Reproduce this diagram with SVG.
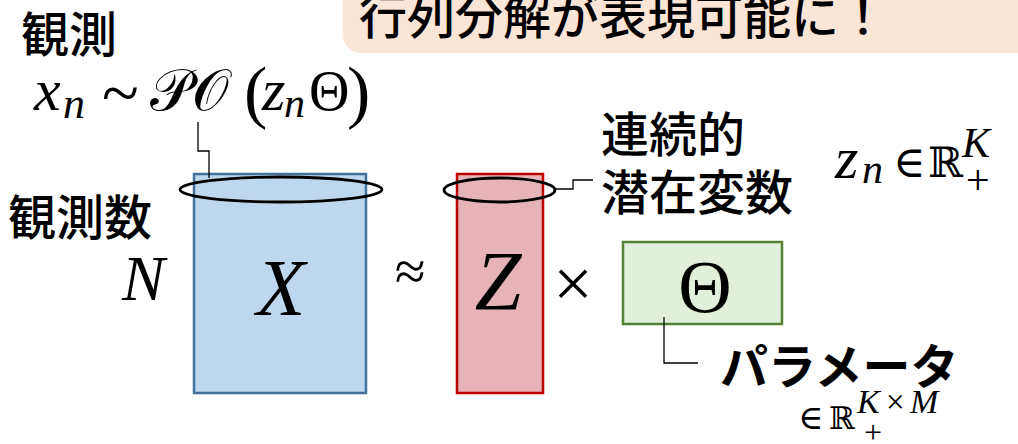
<svg xmlns="http://www.w3.org/2000/svg" width="1018" height="444" viewBox="0 0 1018 444">
<style>
.jp{font-family:"Noto Sans CJK JP","Noto Sans",sans-serif;font-size:48px;font-weight:500;fill:#000}
.m{font-family:"Liberation Serif","DejaVu Serif",serif;fill:#000}
.i{font-style:italic}
.bb{font-family:"DejaVu Serif",serif;fill:#000}
.lead{fill:none;stroke:#000;stroke-width:1.3}
.ell{fill:none;stroke:#000;stroke-width:2.8}
</style>
<rect width="1018" height="444" fill="#fff"/>
<g id="title">
<rect x="343" y="-30" width="720" height="83" rx="18" fill="#FBE5D6"/>
<text class="jp" x="359" y="34">行列分解が表現可能に！</text>
</g>
<g id="obs-label">
<text class="jp" x="21" y="52">観測</text>
<text class="m i" x="34" y="110" font-size="60">x</text>
<text class="m i" x="63" y="118" font-size="44">n</text>
<text class="m" x="102" y="116" font-size="68">~</text>
<text class="m" x="150" y="110" font-size="58">𝒫𝒪</text>
<text class="m" x="244" y="115" font-size="70">(</text>
<text class="m i" x="262" y="110" font-size="60">z</text>
<text class="m i" x="284" y="117" font-size="42">n</text>
<text class="m" x="309" y="110" font-size="56">Θ</text>
<text class="m" x="347" y="115" font-size="70">)</text>
</g>
<g id="count-label">
<text class="jp" x="8" y="235">観測数</text>
<text class="m i" x="122" y="300" font-size="64">N</text>
</g>
<g id="X">
<rect x="194" y="174" width="172" height="219" fill="#BDD7EE" stroke="#41719C" stroke-width="2.5"/>
<text class="m i" x="281" y="315" font-size="80" text-anchor="middle">X</text>
<ellipse class="ell" cx="281" cy="189.5" rx="101" ry="12.5"/>
</g>
<g id="approx"><text class="m" x="410" y="290" font-size="56" text-anchor="middle">≈</text></g>
<g id="Z">
<rect x="457" y="174" width="86" height="219" fill="#E6B4B8" stroke="#C00000" stroke-width="2.5"/>
<text class="m i" x="498" y="310" font-size="84" text-anchor="middle">Z</text>
<ellipse class="ell" cx="499.5" cy="190" rx="55.5" ry="12"/>
</g>
<g id="times"><text class="m" x="573" y="307" font-size="70" text-anchor="middle">×</text></g>
<g id="Theta">
<rect x="623" y="242" width="159" height="82" fill="#E2EFDA" stroke="#548235" stroke-width="2.5"/>
<text class="m" x="705" y="312" font-size="74" text-anchor="middle">Θ</text>
</g>
<g id="latent-label">
<text class="jp" x="601" y="152">連続的</text>
<text class="jp" x="601" y="210">潜在変数</text>
<text class="m i" x="835" y="178" font-size="60">z</text>
<text class="m i" x="862" y="183" font-size="42">n</text>
<text class="m" x="893" y="177" font-size="44">∈</text>
<text class="bb" x="928" y="177" font-size="42">ℝ</text>
<text class="m i" x="962" y="157" font-size="42">K</text>
<text class="m" x="966" y="194" font-size="42">+</text>
</g>
<g id="param-label">
<text class="jp" x="720" y="384" style="font-weight:700">パラメータ</text>
<text class="m" x="798" y="429" font-size="34">∈</text>
<text class="bb" x="829" y="429" font-size="31">ℝ</text>
<text class="m i" x="857" y="413" font-size="34">K</text>
<text class="m" x="886" y="413" font-size="33">×</text>
<text class="m i" x="910" y="413" font-size="34">M</text>
<text class="m" x="864" y="443" font-size="32">+</text>
</g>
<g id="connectors">
<polyline class="lead" points="198,122 198,151 209,151 209,178"/>
<polyline class="lead" points="555,189 573,189 573,180 593,180"/>
<polyline class="lead" points="664,317 664,363 698,363"/>
</g>
</svg>
